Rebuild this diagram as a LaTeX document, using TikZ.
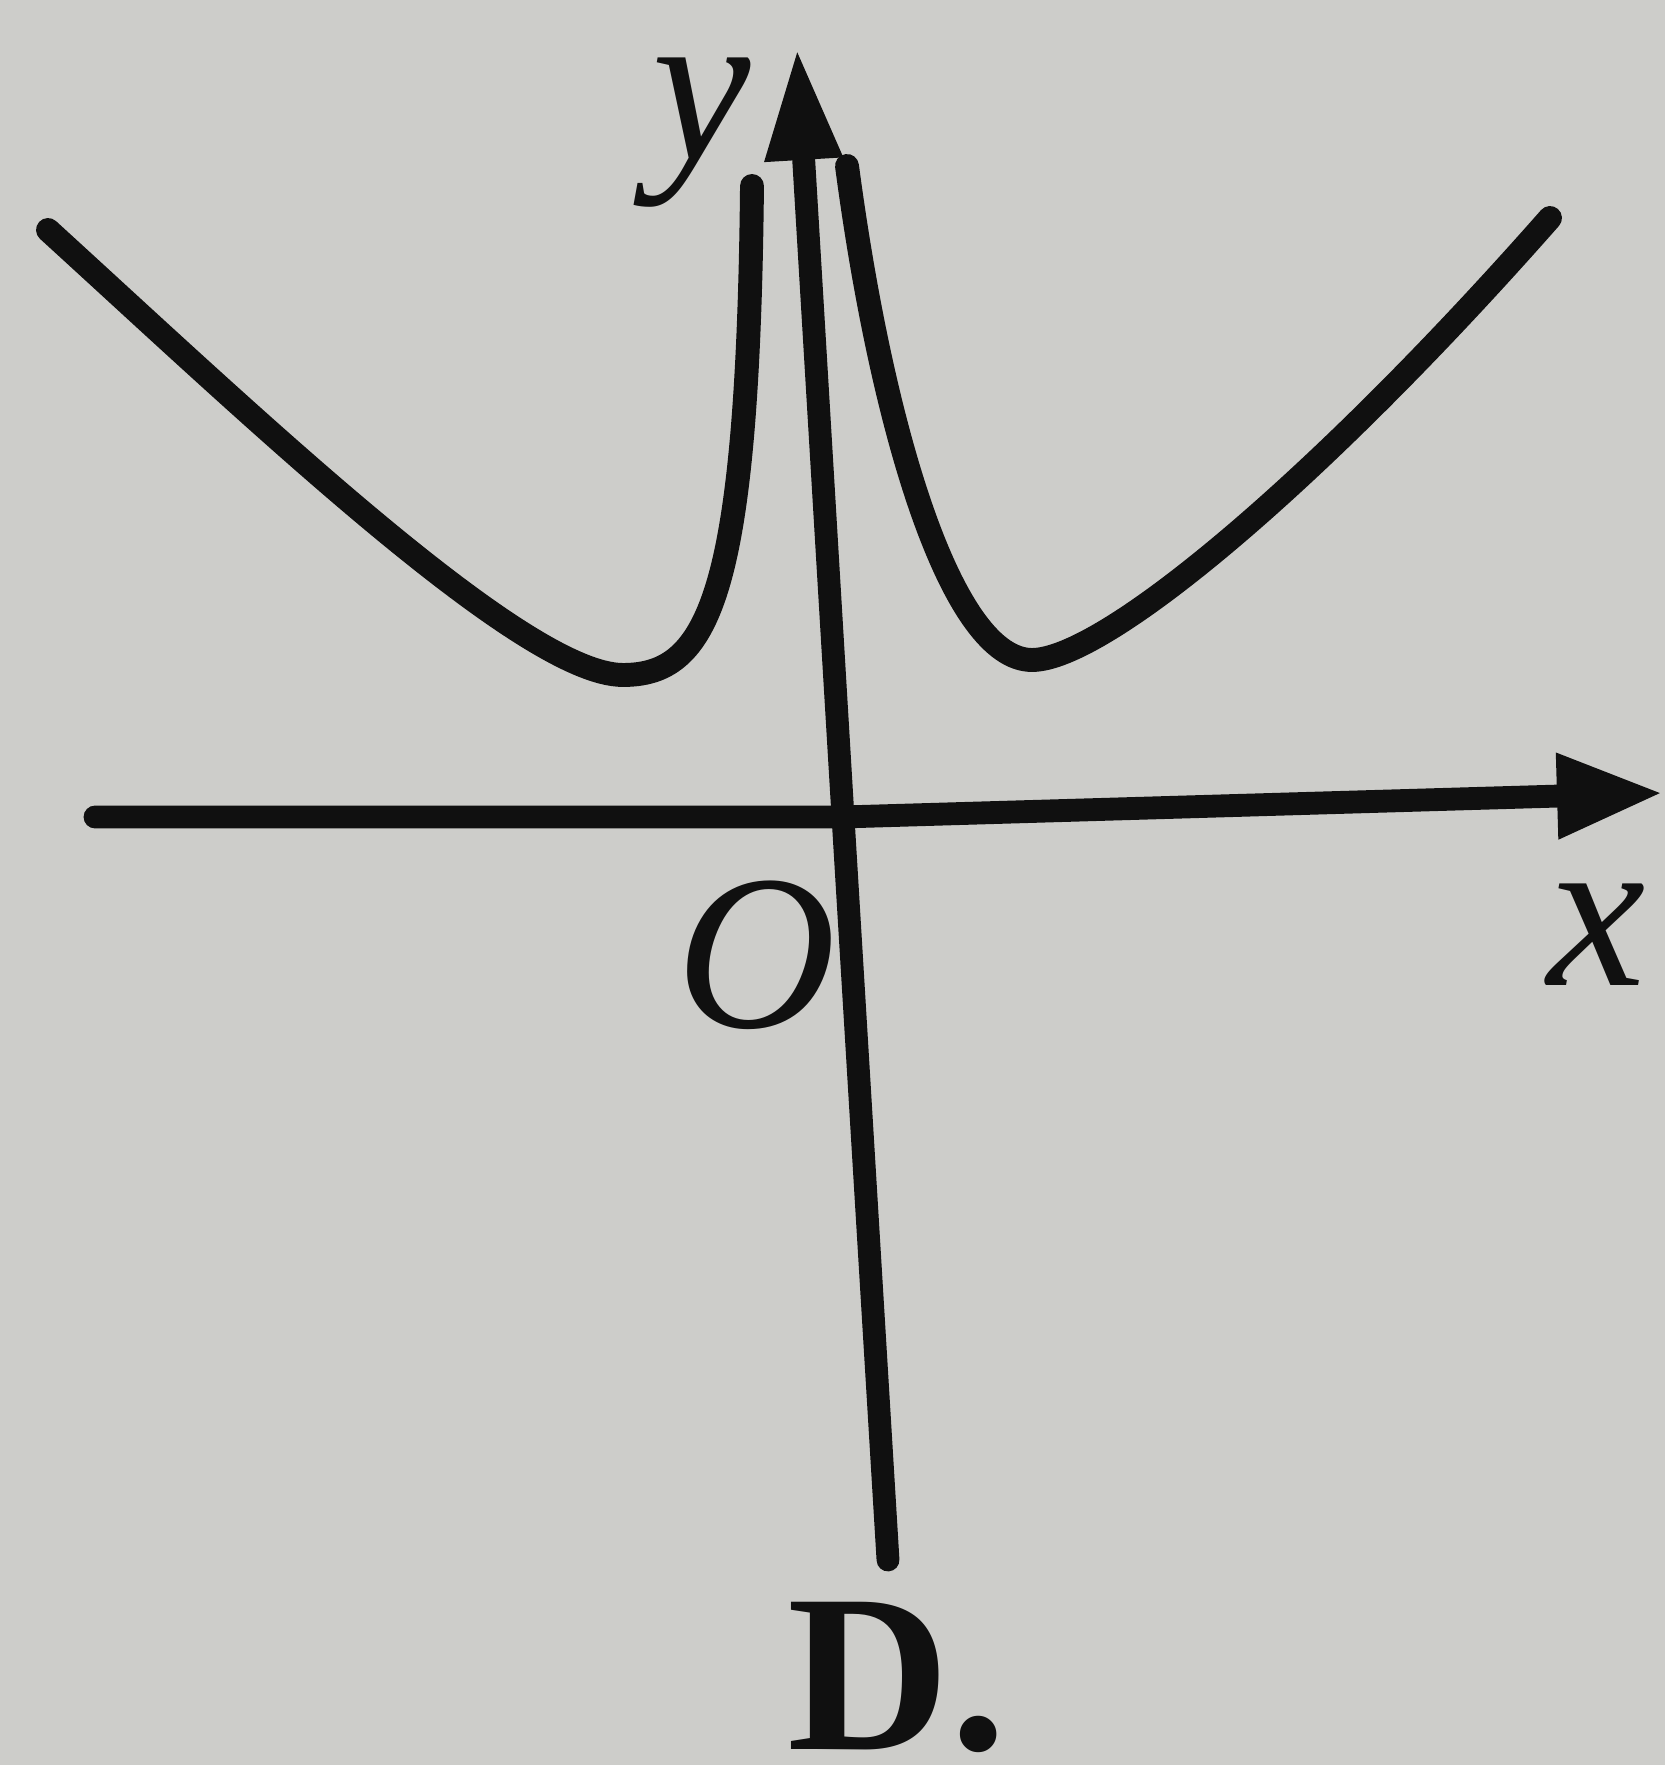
\documentclass[tikz,border=0pt]{standalone}
\usepackage{fontspec}
\setmainfont{Liberation Serif}
\usepackage{tikz}
\usetikzlibrary{arrows.meta}
\definecolor{paper}{HTML}{CDCDCA}
\definecolor{ink}{HTML}{101010}

\begin{document}
\begin{tikzpicture}[>=Triangle,
  axis/.style={draw=ink,line width=6.5pt,line cap=round,line join=round},
  graph/.style={draw=ink,line width=6.8pt,line cap=round,line join=round},
  lbl/.style={text=ink,inner sep=0pt,font=\fontsize{63}{63}\selectfont\itshape}]
% paper background fixes the margins
\useasboundingbox (-8.43,-9.48) rectangle (8.22,8.17);
\fill[paper] (-8.43,-9.48) rectangle (8.22,8.17);

\coordinate (O) at (0,0);
\coordinate (xl) at (-7.48,0.00);
\coordinate (xr) at (8.20,0.24);
\coordinate (yb) at (0.45,-7.43);
\coordinate (yt) at (-0.46,7.69);

% axes, slightly tilted as in the print
\draw[axis,-{Triangle[length=1.06cm,width=0.80cm]}] (xl) -- (O) -- (xr);
\draw[axis,-{Triangle[length=1.12cm,width=0.72cm]}] (yb) -- (O) -- (yt);

% left branch: long slope, flat minimum, steep rise beside the y-axis
\draw[graph] (-7.95,5.87) .. controls (-5.9,4.0) and (-3.2,1.42) .. (-2.20,1.42)
  .. controls (-1.35,1.42) and (-0.95,2.2) .. (-0.91,6.31);
% right branch
\draw[graph] (0.04,6.51) .. controls (0.40,3.8) and (1.1,1.57) .. (1.89,1.57)
  .. controls (2.6,1.57) and (4.7,3.3) .. (7.07,5.99);

\node[lbl] (ylab) at (-1.41,6.84) {y};
\node[lbl] (olab) at (-0.87,-1.38) {O};
\node[lbl] (xlab) at (7.54,-1.18) {x};
\node[lbl,font=\fontsize{64}{64}\selectfont\bfseries] (dlab) at (0.54,-8.60) {D.};
\end{tikzpicture}
\end{document}
